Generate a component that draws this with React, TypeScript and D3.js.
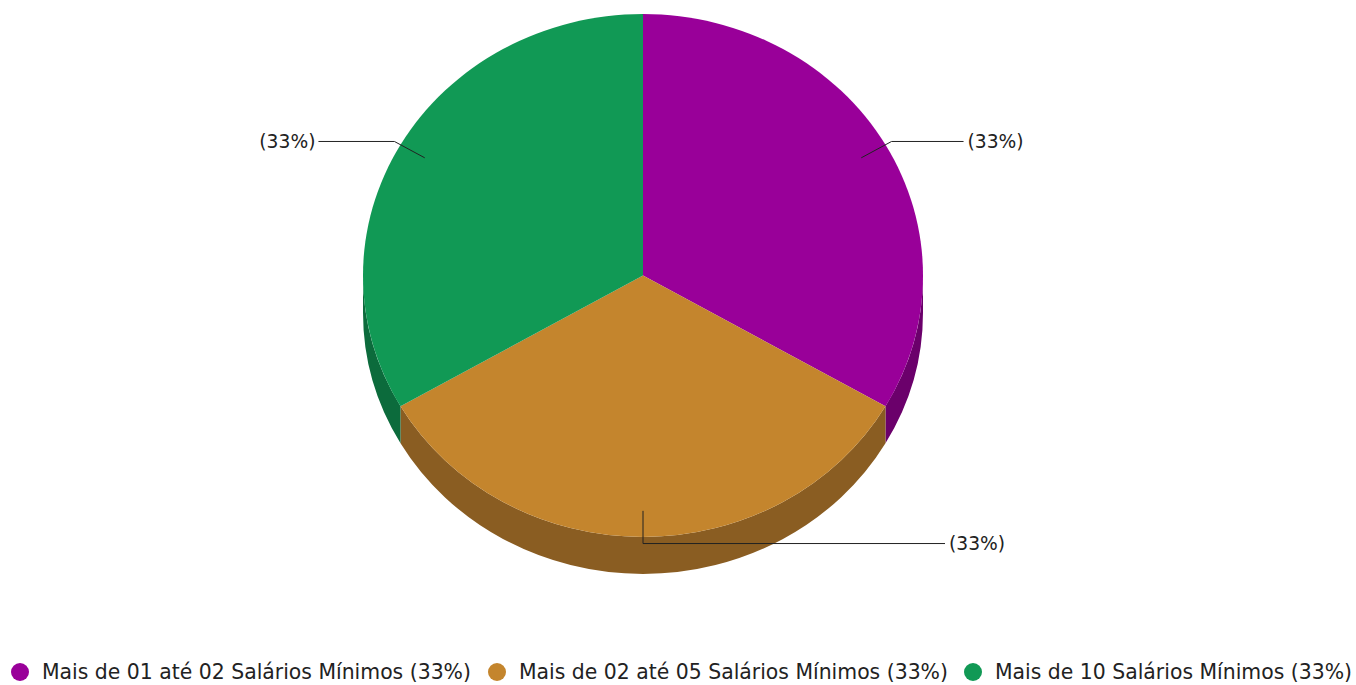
import React from "react";
import * as d3 from "d3";

const categories = [
  "Mais de 01 até 02 Salários Mínimos",
  "Mais de 02 até 05 Salários Mínimos",
  "Mais de 10 Salários Mínimos",
];
const values = [1, 1, 1];
const colors = ["#990099", "#C4852D", "#119955"];
const sideColors = ["#6B006B", "#8A5D22", "#0C6B3C"];

const W = 1356;
const H = 685;
const cx = 643;
const cy = 275.5;
const rx = 280;
const ry = 261.5;
const depth = 37;
const FONT = "'DejaVu Sans', Verdana, sans-serif";

function pt(a: number, k = 1, dy = 0): [number, number] {
  return [cx + rx * k * Math.sin(a), cy - ry * k * Math.cos(a) + dy];
}

export default function App() {
  const total = d3.sum(values);
  const pie = d3.pie<number>().sort(null).value((d) => d)(values);
  const fmt = (v: number) => `(${Math.round((v / total) * 100)}%)`;

  const sides = pie.map((s, i) => {
    const a0 = Math.max(s.startAngle, Math.PI / 2);
    const a1 = Math.min(s.endAngle, (3 * Math.PI) / 2);
    if (a1 <= a0) return null;
    const p0 = pt(a0);
    const p1 = pt(a1);
    const q1 = pt(a1, 1, depth);
    const q0 = pt(a0, 1, depth);
    const d = `M${p0[0]},${p0[1]} A${rx},${ry} 0 0 1 ${p1[0]},${p1[1]} L${q1[0]},${q1[1]} A${rx},${ry} 0 0 0 ${q0[0]},${q0[1]} Z`;
    return <path key={"s" + i} d={d} fill={sideColors[i]} />;
  });

  const tops = pie.map((s, i) => {
    const p0 = pt(s.startAngle);
    const p1 = pt(s.endAngle);
    const large = s.endAngle - s.startAngle > Math.PI ? 1 : 0;
    const d = `M${cx},${cy} L${p0[0]},${p0[1]} A${rx},${ry} 0 ${large} 1 ${p1[0]},${p1[1]} Z`;
    return <path key={"t" + i} d={d} fill={colors[i]} />;
  });

  const labels = pie.map((s, i) => {
    const m = (s.startAngle + s.endAngle) / 2;
    const a = pt(m, 0.9);
    const b = pt(m, 1.025);
    const right = Math.sin(m) >= -1e-6;
    const endX = right ? Math.max(b[0] + 72, cx + 302) : Math.min(b[0] - 76, cx - 302);
    const tx = right ? endX + 4 : endX - 3;
    return (
      <g key={"l" + i}>
        <polyline
          points={`${a[0]},${a[1]} ${b[0]},${b[1]} ${endX},${b[1]}`}
          fill="none"
          stroke="#222"
          strokeWidth={1}
        />
        <text
          x={tx}
          y={b[1]}
          dy="0.36em"
          textAnchor={right ? "start" : "end"}
          fontFamily={FONT}
          fontSize={18.7}
          fill="#222"
        >
          {fmt(s.value)}
        </text>
      </g>
    );
  });

  const legendX = [20, 497, 973];
  const legend = categories.map((c, i) => (
    <g key={"lg" + i} transform={`translate(${legendX[i]},672)`}>
      <circle r={9} fill={colors[i]} />
      <text x={22} dy="0.36em" fontFamily={FONT} fontSize={20.4} fill="#222">
        {`${c} ${fmt(values[i])}`}
      </text>
    </g>
  ));

  return (
    <svg width={W} height={H} style={{ position: "absolute", left: 0, top: 0, background: "#fff" }}>
      {sides}
      {tops}
      {labels}
      {legend}
    </svg>
  );
}
